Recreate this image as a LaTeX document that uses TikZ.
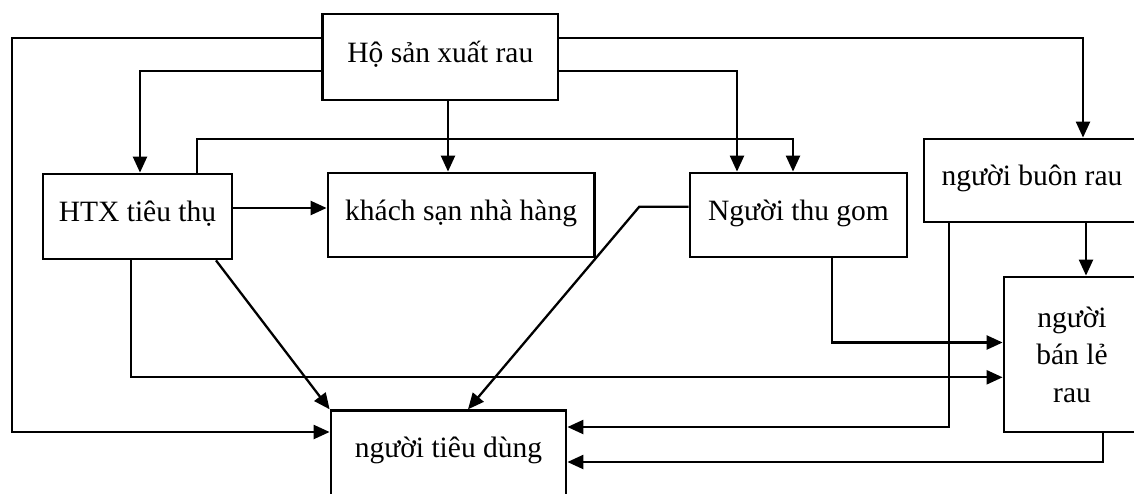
\documentclass[tikz,border=0pt]{standalone}
\usepackage{fontspec}
\setmainfont{Liberation Serif}
\usetikzlibrary{arrows.meta}
\begin{document}
\begin{tikzpicture}[x=1pt,y=-1pt,
  box/.style={draw, line width=2.8pt, inner sep=0pt, font=\fontsize{29.5}{37.5}\selectfont},
  one/.style={text height=10pt, text depth=0pt},
  arr/.style={line width=2.3pt, -{Triangle[length=16pt,width=14pt]}}]
\useasboundingbox (0,0) rectangle (1134,493);
\fill[white] (0,0) rectangle (1134,493);
\clip (0,0) rectangle (1134,493);
% boxes
\node[box,one,minimum width=235.3pt,minimum height=86pt] (top) at (440.35,57) {Hộ sản xuất rau};
\node[box,one,minimum width=189pt,minimum height=85pt] (htx) at (137.5,216.5) {HTX tiêu thụ};
\node[box,one,minimum width=266.3pt,minimum height=84pt] (ks) at (461.15,215) {khách sạn nhà hàng};
\node[box,one,minimum width=217pt,minimum height=84pt] (ntg) at (798.5,215) {Người thu gom};
\node[box,one,minimum width=216pt,minimum height=83pt] (nbr) at (1032,180.5) {người buôn rau};
\node[box,align=center,minimum width=136pt,minimum height=155pt] (nbl) at (1072,354.5) {người\\bán lẻ\\rau};
\node[box,one,minimum width=235pt,minimum height=84.3pt] (ntd) at (448.5,452.85) {người tiêu dùng};
% connectors
\draw[arr] (top.west |- 0,38) -- (11.7,38) -- (11.7,432) -- (ntd.west |- 0,432);
\draw[arr] (top.west |- 0,71) -| (htx.north -| 140,0);
\draw[arr] (top.south -| 448,0) -- (ks.north -| 448,0);
\draw[arr] (top.east |- 0,71) -| (ntg.north -| 737,0);
\draw[arr] (top.east |- 0,38) -| (nbr.north -| 1083,0);
\draw[arr] (htx.north -| 196.7,0) |- (793,139.3) -- (ntg.north -| 793,0);
\draw[arr] (htx.east |- 0,208) -- (ks.west |- 0,208);
\draw[arr] (htx.south -| 216,0) -- (ntd.north west);
\draw[arr] (ntg.west |- 0,206.7) -- (639.3,206.7) -- (ntd.north -| 468,0);
\draw[arr] (htx.south -| 131,0) |- (nbl.west |- 0,377.3);
\draw[arr] (ntg.south -| 832,0) |- (nbl.west |- 0,342.5);
\draw[arr] (nbr.south -| 949,0) |- (ntd.east |- 0,427);
\draw[arr] (nbr.south -| 1086,0) -- (nbl.north -| 1086,0);
\draw[arr] (nbl.south -| 1103,0) |- (ntd.east |- 0,462);
\end{tikzpicture}
\end{document}
